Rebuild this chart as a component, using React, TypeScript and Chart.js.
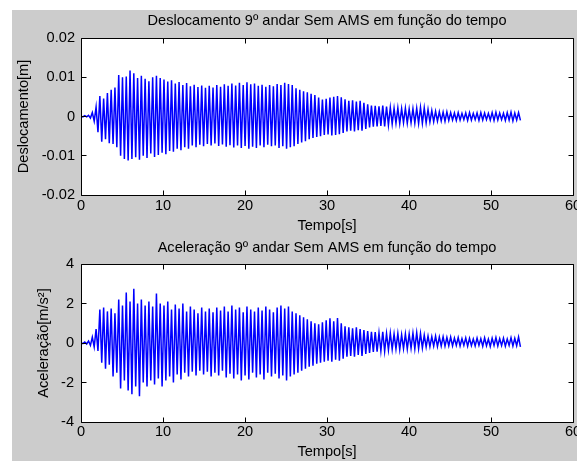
import React, { useEffect, useRef } from "react";
import { Chart, registerables } from "chart.js";

Chart.register(...registerables);

// ---- data ----
const CYCLE_PERIOD = 0.46; // s, one oscillation (peak + trough)
const X_TICKS = [0, 10, 20, 30, 40, 50, 60];
const DISP_TICKS = [-0.02, -0.01, 0, 0.01, 0.02];
const ACC_TICKS = [-4, -2, 0, 2, 4];

const DISP_TITLE = "Deslocamento 9º andar Sem AMS em função do tempo";
const ACC_TITLE = "Aceleração 9º andar Sem AMS em função do tempo";
const X_LABEL = "Tempo[s]";
const DISP_LABEL = "Deslocamento[m]";
const ACC_LABEL = "Aceleração[m/s²]";

const DISP_PEAKS = [
  0.0001, 0.0002, 0.0003, 0.0010, 0.0024, 0.0052, 0.0046, 0.0060, 0.0068, 0.0074,
  0.0106, 0.0100, 0.0102, 0.0117, 0.0110, 0.0098, 0.0104, 0.0096, 0.0090, 0.0100,
  0.0104, 0.0098, 0.0094, 0.0089, 0.0092, 0.0084, 0.0088, 0.0080, 0.0085, 0.0077,
  0.0081, 0.0075, 0.0079, 0.0073, 0.0078, 0.0074, 0.0080, 0.0076, 0.0082, 0.0078,
  0.0084, 0.0079, 0.0086, 0.0080, 0.0087, 0.0082, 0.0084, 0.0078, 0.0081, 0.0076,
  0.0080, 0.0077, 0.0083, 0.0080, 0.0086, 0.0083, 0.0080, 0.0072, 0.0068, 0.0064,
  0.0062, 0.0058, 0.0055, 0.0048, 0.0043, 0.0045, 0.0048, 0.0050, 0.0052, 0.0049,
  0.0044, 0.0040, 0.0041, 0.0038, 0.0040, 0.0035, 0.0031, 0.0028, 0.0027, 0.0026,
  0.0028, 0.0025, 0.0023, 0.0021, 0.0022, 0.0020, 0.0021, 0.0019, 0.0020, 0.0021,
  0.0023, 0.0022, 0.0018, 0.0015, 0.0013, 0.0012, 0.0011, 0.0012, 0.0010, 0.0009,
  0.0010, 0.0008, 0.0009, 0.0010, 0.0008, 0.0009, 0.0010, 0.0009, 0.0008, 0.0010,
  0.0011, 0.0009, 0.0008, 0.0010, 0.0011, 0.0009, 0.0010,
];

const DISP_TROUGHS = [
  -0.0001, -0.0001, -0.0004, -0.0012, -0.0040, -0.0064, -0.0058, -0.0068, -0.0070, -0.0078,
  -0.0100, -0.0108, -0.0112, -0.0108, -0.0104, -0.0110, -0.0100, -0.0106, -0.0094, -0.0103,
  -0.0098, -0.0092, -0.0096, -0.0088, -0.0090, -0.0082, -0.0086, -0.0078, -0.0082, -0.0074,
  -0.0078, -0.0072, -0.0076, -0.0070, -0.0074, -0.0069, -0.0075, -0.0071, -0.0077, -0.0073,
  -0.0079, -0.0074, -0.0080, -0.0075, -0.0082, -0.0077, -0.0080, -0.0074, -0.0078, -0.0072,
  -0.0076, -0.0074, -0.0080, -0.0076, -0.0082, -0.0078, -0.0076, -0.0070, -0.0066, -0.0063,
  -0.0058, -0.0055, -0.0052, -0.0050, -0.0047, -0.0046, -0.0048, -0.0047, -0.0045, -0.0042,
  -0.0038, -0.0036, -0.0038, -0.0035, -0.0036, -0.0032, -0.0028, -0.0026, -0.0025, -0.0024,
  -0.0025, -0.0022, -0.0019, -0.0017, -0.0018, -0.0016, -0.0017, -0.0016, -0.0017, -0.0018,
  -0.0017, -0.0016, -0.0014, -0.0013, -0.0012, -0.0011, -0.0012, -0.0010, -0.0009, -0.0010,
  -0.0009, -0.0008, -0.0010, -0.0009, -0.0008, -0.0010, -0.0009, -0.0008, -0.0009, -0.0010,
  -0.0009, -0.0008, -0.0010, -0.0009, -0.0011, -0.0009, -0.0010,
];

const ACC_PEAKS = [
  0.02, 0.05, 0.10, 0.30, 0.70, 1.70, 1.80, 1.60, 1.75, 1.50,
  2.20, 1.90, 2.55, 2.10, 2.74, 2.00, 2.20, 1.90, 2.10, 1.85,
  2.50, 2.00, 1.90, 2.10, 1.70, 1.95, 1.75, 2.00, 1.60, 1.85,
  1.70, 1.50, 1.80, 1.60, 1.75, 1.55, 1.80, 1.65, 1.85, 1.60,
  1.90, 1.70, 1.80, 1.55, 1.85, 1.70, 1.60, 1.80, 1.65, 1.85,
  1.70, 1.55, 1.80, 1.90, 1.75, 1.85, 1.60, 1.50, 1.40, 1.30,
  1.20, 1.10, 1.00, 0.95, 1.05, 1.15, 1.25, 1.10, 1.27, 1.00,
  0.85, 0.80, 0.75, 0.80, 0.70, 0.65, 0.60, 0.57, 0.55, 0.50,
  0.57, 0.48, 0.50, 0.45, 0.48, 0.42, 0.46, 0.45, 0.50, 0.52,
  0.48, 0.40, 0.35, 0.32, 0.35, 0.30, 0.32, 0.28, 0.30, 0.25,
  0.28, 0.22, 0.26, 0.24, 0.20, 0.25, 0.22, 0.26, 0.20, 0.24,
  0.28, 0.22, 0.25, 0.20, 0.27, 0.24, 0.30,
];

const ACC_TROUGHS = [
  -0.03, -0.05, -0.12, -0.20, -0.40, -1.00, -1.30, -1.10, -1.70, -1.50,
  -2.30, -1.90, -2.40, -2.60, -2.20, -2.70, -2.00, -2.20, -1.90, -2.10,
  -1.80, -2.20, -1.90, -1.70, -2.00, -1.60, -1.85, -1.50, -1.70, -1.45,
  -1.65, -1.40, -1.60, -1.45, -1.70, -1.50, -1.65, -1.40, -1.75, -1.55,
  -1.80, -1.60, -1.90, -1.65, -1.85, -1.50, -1.75, -1.60, -1.85, -1.50,
  -1.70, -1.55, -1.80, -1.65, -1.90, -1.70, -1.60, -1.50, -1.40, -1.30,
  -1.20, -1.15, -1.05, -1.00, -0.95, -0.90, -0.95, -0.85, -0.90, -0.80,
  -0.70, -0.65, -0.70, -0.60, -0.65, -0.55, -0.50, -0.45, -0.44, -0.40,
  -0.42, -0.35, -0.32, -0.30, -0.33, -0.28, -0.30, -0.26, -0.30, -0.28,
  -0.25, -0.20, -0.18, -0.16, -0.18, -0.15, -0.16, -0.14, -0.15, -0.12,
  -0.15, -0.12, -0.16, -0.13, -0.15, -0.12, -0.16, -0.14, -0.18, -0.12,
  -0.15, -0.13, -0.16, -0.12, -0.15, -0.14, -0.20,
];

// ---- helpers ----
function buildSeries(peaks: number[], troughs: number[]) {
  const pts: { x: number; y: number }[] = [];
  for (let k = 0; k < peaks.length; k++) {
    pts.push({ x: k * CYCLE_PERIOD, y: peaks[k] });
    pts.push({ x: k * CYCLE_PERIOD + CYCLE_PERIOD / 2, y: troughs[k] });
  }
  return pts;
}

const FONT_FAMILY = "'Liberation Sans', Arial, Helvetica, sans-serif";
const FONT = { family: FONT_FAMILY, size: 14.6 };
const TEXT = "#000000";

const matlabBox = {
  id: "matlabBox",
  beforeDraw(chart: any) {
    const { ctx, chartArea: a } = chart;
    ctx.save();
    ctx.fillStyle = "#ffffff";
    ctx.fillRect(a.left, a.top, a.right - a.left, a.bottom - a.top);
    ctx.restore();
  },
  afterDatasetsDraw(chart: any, _args: any, opts: any) {
    const { ctx, chartArea: a, scales } = chart;
    const L = Math.floor(a.left) + 0.5;
    const R = Math.floor(a.right) + 0.5;
    const T = Math.floor(a.top) + 0.5;
    const B = Math.floor(a.bottom) + 0.5;
    const len = 5;
    ctx.save();
    ctx.strokeStyle = "#000000";
    ctx.lineWidth = 1;
    ctx.beginPath();
    ctx.rect(L, T, R - L, B - T);
    for (const v of opts.xTicks as number[]) {
      const px = Math.floor(scales.x.getPixelForValue(v)) + 0.5;
      ctx.moveTo(px, B);
      ctx.lineTo(px, B - len);
      ctx.moveTo(px, T);
      ctx.lineTo(px, T + len);
    }
    for (const v of opts.yTicks as number[]) {
      const py = Math.floor(scales.y.getPixelForValue(v)) + 0.5;
      ctx.moveTo(L, py);
      ctx.lineTo(L + len, py);
      ctx.moveTo(R, py);
      ctx.lineTo(R - len, py);
    }
    ctx.stroke();
    ctx.restore();
  },
};

type PanelOpts = {
  peaks: number[];
  troughs: number[];
  yTicks: number[];
  title: string;
  yLabel: string;
  topH: number;
  titlePadTop: number;
  bottomH: number;
  xTickPad: number;
  xTitlePadBottom: number;
  yTitlePadTop: number;
  yTickPad: number;
};

function makeConfig(o: PanelOpts): any {
  const yMin = o.yTicks[0];
  const yMax = o.yTicks[o.yTicks.length - 1];
  return {
    type: "line",
    data: {
      datasets: [
        {
          data: buildSeries(o.peaks, o.troughs),
          borderColor: "#0000ff",
          borderWidth: 1.5,
          pointRadius: 0,
          tension: 0,
          fill: false,
        },
      ],
    },
    plugins: [matlabBox],
    options: {
      responsive: false,
      animation: false,
      events: [],
      layout: { padding: { left: 0, right: 4, top: 0, bottom: 0 } },
      plugins: {
        legend: { display: false },
        tooltip: { enabled: false },
        title: { display: false },
        matlabBox: { xTicks: X_TICKS, yTicks: o.yTicks },
      },
      scales: {
        x: {
          type: "linear",
          position: "bottom",
          min: X_TICKS[0],
          max: X_TICKS[X_TICKS.length - 1],
          afterBuildTicks: (s: any) => {
            s.ticks = X_TICKS.map((v) => ({ value: v }));
          },
          ticks: {
            autoSkip: false,
            maxRotation: 0,
            minRotation: 0,
            padding: o.xTickPad,
            color: TEXT,
            font: FONT,
            callback: (v: any) => String(v),
          },
          grid: { display: false, drawTicks: false },
          border: { display: false },
          title: {
            display: true,
            text: X_LABEL,
            color: TEXT,
            font: FONT,
            padding: { top: 0, bottom: o.xTitlePadBottom },
          },
          afterFit: (s: any) => {
            s.height = o.bottomH;
            s.paddingLeft = 0;
            s.paddingRight = 0;
          },
        },
        xTop: {
          type: "linear",
          axis: "x",
          position: "top",
          min: X_TICKS[0],
          max: X_TICKS[X_TICKS.length - 1],
          ticks: { display: false },
          grid: { display: false, drawTicks: false },
          border: { display: false },
          title: {
            display: true,
            text: o.title,
            color: TEXT,
            font: FONT,
            padding: { top: o.titlePadTop, bottom: 0 },
          },
          afterFit: (s: any) => {
            s.height = o.topH;
            s.paddingLeft = 0;
            s.paddingRight = 0;
          },
        },
        y: {
          type: "linear",
          position: "left",
          min: yMin,
          max: yMax,
          afterBuildTicks: (s: any) => {
            s.ticks = o.yTicks.map((v) => ({ value: v }));
          },
          ticks: {
            padding: o.yTickPad,
            color: TEXT,
            font: FONT,
            callback: (v: any) => String(v),
          },
          grid: { display: false, drawTicks: false },
          border: { display: false },
          title: {
            display: true,
            text: o.yLabel,
            color: TEXT,
            font: FONT,
            padding: { top: o.yTitlePadTop, bottom: 0 },
          },
          afterFit: (s: any) => {
            s.width = 81;
            s.paddingTop = 0;
            s.paddingBottom = 0;
          },
        },
      },
    },
  };
}

export default function App() {
  const topRef = useRef<HTMLCanvasElement | null>(null);
  const botRef = useRef<HTMLCanvasElement | null>(null);

  useEffect(() => {
    if (!topRef.current || !botRef.current) return;
    const c1 = new Chart(
      topRef.current,
      makeConfig({
        peaks: DISP_PEAKS,
        troughs: DISP_TROUGHS,
        yTicks: DISP_TICKS,
        title: DISP_TITLE,
        yLabel: DISP_LABEL,
        topH: 38,
        titlePadTop: 12.2,
        bottomH: 41,
        xTickPad: 2,
        xTitlePadBottom: 1.7,
        yTitlePadTop: 15.2,
        yTickPad: 6,
      })
    );
    const c2 = new Chart(
      botRef.current,
      makeConfig({
        peaks: ACC_PEAKS,
        troughs: ACC_TROUGHS,
        yTicks: ACC_TICKS,
        title: ACC_TITLE,
        yLabel: ACC_LABEL,
        topH: 28,
        titlePadTop: 3.2,
        bottomH: 39,
        xTickPad: 1.3,
        xTitlePadBottom: 0.7,
        yTitlePadTop: 35.7,
        yTickPad: 7,
      })
    );
    return () => {
      c1.destroy();
      c2.destroy();
    };
  }, []);

  return (
    <div
      style={{
        position: "fixed",
        left: 0,
        top: 0,
        width: 577,
        height: 461,
        background: "#ffffff",
        overflow: "hidden",
      }}
    >
      <div
        style={{
          position: "absolute",
          left: 12,
          top: 10,
          width: 565,
          height: 451,
          background: "#cccccc",
        }}
      />
      <canvas
        ref={topRef}
        width={577}
        height={236}
        style={{ position: "absolute", left: 0, top: 0, width: 577, height: 236 }}
      />
      <canvas
        ref={botRef}
        width={577}
        height={225}
        style={{ position: "absolute", left: 0, top: 236, width: 577, height: 225 }}
      />
    </div>
  );
}
